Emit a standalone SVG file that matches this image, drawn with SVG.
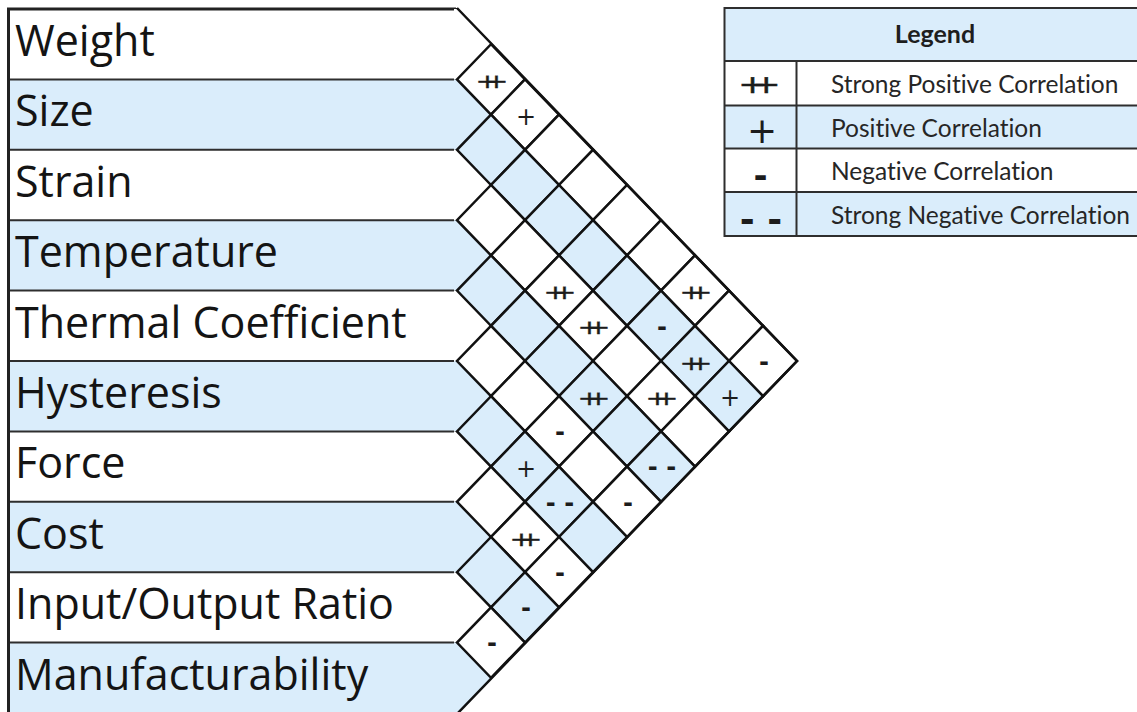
<svg xmlns="http://www.w3.org/2000/svg" width="1137" height="712" viewBox="0 0 1137 712">
  <style>
    .w{fill:#ffffff}
    .b{fill:#daedfb}
    .rule{stroke:#2e2e2e;stroke-width:2;fill:none}
    .edge{stroke:#222;stroke-width:3;fill:none}
    .cell{stroke:#111;stroke-width:2.5}
    .outline{stroke:#111;stroke-width:2.5;fill:none;stroke-linejoin:miter}
    .lbl{font-family:"Open Sans","Noto Sans",sans-serif;font-size:43px;fill:#141414}
    .mk{font-family:"DejaVu Sans",sans-serif;fill:#1c1c1c}
    .pp{font-size:19px;letter-spacing:-9.9px;stroke:#1c1c1c;stroke-width:0.3}
    .p{font-size:24px;text-anchor:middle}
    .m{font-size:24px;font-weight:bold;text-anchor:middle}
    .lg{font-family:"Lato","Open Sans",sans-serif;font-size:24.5px;fill:#262626;font-variant-ligatures:none}
    .lgh{font-family:"Lato","Open Sans",sans-serif;font-size:25px;font-weight:bold;fill:#1e1e1e;text-anchor:middle}
  </style>
  <defs>
    <!-- one correlation cell: diamond half-width 34, half-height 35.2 -->
    <polygon id="dia" points="0,-35.2 34,0 0,35.2 -34,0"/>
  </defs>

  <!-- requirement rows -->
  <g id="requirements">
    <g id="row-weight"><rect class="w" x="8" y="9" width="447" height="70.4"/><text class="lbl" x="15" y="56">Weight</text></g>
    <g id="row-size"><rect class="b" x="8" y="79.4" width="447" height="70.4"/><text class="lbl" x="15" y="126.4">Size</text></g>
    <g id="row-strain"><rect class="w" x="8" y="149.8" width="447" height="70.4"/><text class="lbl" x="15" y="196.8">Strain</text></g>
    <g id="row-temperature"><rect class="b" x="8" y="220.2" width="447" height="70.4"/><text class="lbl" x="15" y="267.2">Temperature</text></g>
    <g id="row-thermal-coefficient"><rect class="w" x="8" y="290.6" width="447" height="70.4"/><text class="lbl" x="15" y="337.6">Thermal Coefficient</text></g>
    <g id="row-hysteresis"><rect class="b" x="8" y="361" width="447" height="70.4"/><text class="lbl" x="15" y="408">Hysteresis</text></g>
    <g id="row-force"><rect class="w" x="8" y="431.4" width="447" height="70.4"/><text class="lbl" x="15" y="478.4">Force</text></g>
    <g id="row-cost"><rect class="b" x="8" y="501.8" width="447" height="70.4"/><text class="lbl" x="15" y="548.8">Cost</text></g>
    <g id="row-io-ratio"><rect class="w" x="8" y="572.2" width="447" height="70.4"/><text class="lbl" x="15" y="619.2">Input/Output Ratio</text></g>
    <g id="row-manufacturability"><rect class="b" x="8" y="642.6" width="447" height="70.4"/><text class="lbl" x="15" y="689.6">Manufacturability</text></g>
    <g id="row-rules">
      <path class="rule" d="M8,79.4H455M8,149.8H455M8,220.2H455M8,290.6H455M8,361H455M8,431.4H455M8,501.8H455M8,572.2H455M8,642.6H455"/>
      <path class="edge" d="M8.5,9V713M455.5,8V713M7,9H456" />
    </g>
  </g>

  <!-- correlation roof -->
  <g id="roof">
    <!-- half cells continuing each row into the roof -->
    <g id="row-ends">
      <polygon class="w" points="454,9 457,9 491,44.2 457,79.4 454,79.4"/>
      <polygon class="b" points="454,79.4 457,79.4 491,114.6 457,149.8 454,149.8"/>
      <polygon class="w" points="454,149.8 457,149.8 491,185 457,220.2 454,220.2"/>
      <polygon class="b" points="454,220.2 457,220.2 491,255.4 457,290.6 454,290.6"/>
      <polygon class="w" points="454,290.6 457,290.6 491,325.8 457,361 454,361"/>
      <polygon class="b" points="454,361 457,361 491,396.2 457,431.4 454,431.4"/>
      <polygon class="w" points="454,431.4 457,431.4 491,466.6 457,501.8 454,501.8"/>
      <polygon class="b" points="454,501.8 457,501.8 491,537 457,572.2 454,572.2"/>
      <polygon class="w" points="454,572.2 457,572.2 491,607.4 457,642.6 454,642.6"/>
      <polygon class="b" points="454,642.6 457,642.6 491,677.8 457,713 454,713"/>
    </g>
    <g id="cells">
      <!-- band 0: Weight -->
      <use href="#dia" class="cell w" x="491" y="79.4"/>
      <use href="#dia" class="cell w" x="525" y="114.6"/>
      <use href="#dia" class="cell w" x="559" y="149.8"/>
      <use href="#dia" class="cell w" x="593" y="185"/>
      <use href="#dia" class="cell w" x="627" y="220.2"/>
      <use href="#dia" class="cell w" x="661" y="255.4"/>
      <use href="#dia" class="cell w" x="695" y="290.6"/>
      <use href="#dia" class="cell w" x="729" y="325.8"/>
      <use href="#dia" class="cell w" x="763" y="361"/>
      <!-- band 1: Size -->
      <use href="#dia" class="cell b" x="491" y="149.8"/>
      <use href="#dia" class="cell b" x="525" y="185"/>
      <use href="#dia" class="cell b" x="559" y="220.2"/>
      <use href="#dia" class="cell b" x="593" y="255.4"/>
      <use href="#dia" class="cell b" x="627" y="290.6"/>
      <use href="#dia" class="cell b" x="661" y="325.8"/>
      <use href="#dia" class="cell b" x="695" y="361"/>
      <use href="#dia" class="cell b" x="729" y="396.2"/>
      <!-- band 2: Strain -->
      <use href="#dia" class="cell w" x="491" y="220.2"/>
      <use href="#dia" class="cell w" x="525" y="255.4"/>
      <use href="#dia" class="cell w" x="559" y="290.6"/>
      <use href="#dia" class="cell w" x="593" y="325.8"/>
      <use href="#dia" class="cell w" x="627" y="361"/>
      <use href="#dia" class="cell w" x="661" y="396.2"/>
      <use href="#dia" class="cell w" x="695" y="431.4"/>
      <!-- band 3: Temperature -->
      <use href="#dia" class="cell b" x="491" y="290.6"/>
      <use href="#dia" class="cell b" x="525" y="325.8"/>
      <use href="#dia" class="cell b" x="559" y="361"/>
      <use href="#dia" class="cell b" x="593" y="396.2"/>
      <use href="#dia" class="cell b" x="627" y="431.4"/>
      <use href="#dia" class="cell b" x="661" y="466.6"/>
      <!-- band 4: Thermal Coefficient -->
      <use href="#dia" class="cell w" x="491" y="361"/>
      <use href="#dia" class="cell w" x="525" y="396.2"/>
      <use href="#dia" class="cell w" x="559" y="431.4"/>
      <use href="#dia" class="cell w" x="593" y="466.6"/>
      <use href="#dia" class="cell w" x="627" y="501.8"/>
      <!-- band 5: Hysteresis -->
      <use href="#dia" class="cell b" x="491" y="431.4"/>
      <use href="#dia" class="cell b" x="525" y="466.6"/>
      <use href="#dia" class="cell b" x="559" y="501.8"/>
      <use href="#dia" class="cell b" x="593" y="537"/>
      <!-- band 6: Force -->
      <use href="#dia" class="cell w" x="491" y="501.8"/>
      <use href="#dia" class="cell w" x="525" y="537"/>
      <use href="#dia" class="cell w" x="559" y="572.2"/>
      <!-- band 7: Cost -->
      <use href="#dia" class="cell b" x="491" y="572.2"/>
      <use href="#dia" class="cell b" x="525" y="607.4"/>
      <!-- band 8: Input/Output Ratio -->
      <use href="#dia" class="cell w" x="491" y="642.6"/>
    </g>
    <polyline class="outline" points="457,8 797,361 457,714"/>

    <!-- correlation marks -->
    <g id="marks" class="mk">
      <text class="pp" transform="translate(492,82) scale(1.5,1)" x="-10.96" y="6">++</text>
      <text class="p" x="526" y="124.7">+</text>
      <text class="pp" transform="translate(560,293.2) scale(1.5,1)" x="-10.96" y="6">++</text>
      <text class="pp" transform="translate(594,328.4) scale(1.5,1)" x="-10.96" y="6">++</text>
      <text class="m" x="662" y="334.5">-</text>
      <text class="pp" transform="translate(696,293.2) scale(1.5,1)" x="-10.96" y="6">++</text>
      <text class="pp" transform="translate(696,363.6) scale(1.5,1)" x="-10.96" y="6">++</text>
      <text class="m" x="764" y="369.7">-</text>
      <text class="pp" transform="translate(594,398.8) scale(1.5,1)" x="-10.96" y="6">++</text>
      <text class="pp" transform="translate(662,398.8) scale(1.5,1)" x="-10.96" y="6">++</text>
      <text class="p" x="730" y="406.3">+</text>
      <text class="m" x="560" y="440.1">-</text>
      <text class="p" x="526" y="476.7">+</text>
      <text class="m" x="662" y="475.3">- -</text>
      <text class="m" x="560" y="510.5">- -</text>
      <text class="m" x="628" y="510.5">-</text>
      <text class="pp" transform="translate(526,539.6) scale(1.5,1)" x="-10.96" y="6">++</text>
      <text class="m" x="560" y="580.9">-</text>
      <text class="m" x="526" y="616.1">-</text>
      <text class="m" x="492" y="651.3">-</text>
    </g>
  </g>

  <!-- legend table -->
  <g id="legend">
    <rect class="b" x="724.5" y="8" width="430" height="53"/>
    <rect class="w" x="724.5" y="61" width="430" height="44.5"/>
    <rect class="b" x="724.5" y="105.5" width="430" height="43"/>
    <rect class="w" x="724.5" y="148.5" width="430" height="43.5"/>
    <rect class="b" x="724.5" y="192" width="430" height="44"/>
    <path class="rule" d="M724.5,8H1140M724.5,61H1140M724.5,105.5H1140M724.5,148.5H1140M724.5,192H1140M724.5,236H1140M724.5,7V237M796.5,61V236"/>
    <text class="lgh" x="935" y="43">Legend</text>
    <g class="mk">
      <text style="font-size:24px;letter-spacing:-10.45px;stroke:#1c1c1c;stroke-width:0.5" transform="translate(759.5,85.5) scale(1.42,1)" x="-14.9" y="7.7">++</text>
      <text style="font-size:36px;text-anchor:middle" x="762" y="143">+</text>
      <text style="font-size:34px;font-weight:bold;text-anchor:middle" x="760.5" y="186.5">-</text>
      <text style="font-size:36px;font-weight:bold;text-anchor:middle" x="761" y="231.6">- -</text>
    </g>
    <text class="lg" x="831" y="93">Strong Positive Correlation</text>
    <text class="lg" x="831" y="136.5">Positive Correlation</text>
    <text class="lg" x="831" y="180">Negative Correlation</text>
    <text class="lg" x="831" y="224">Strong Negative Correlation</text>
  </g>
</svg>
